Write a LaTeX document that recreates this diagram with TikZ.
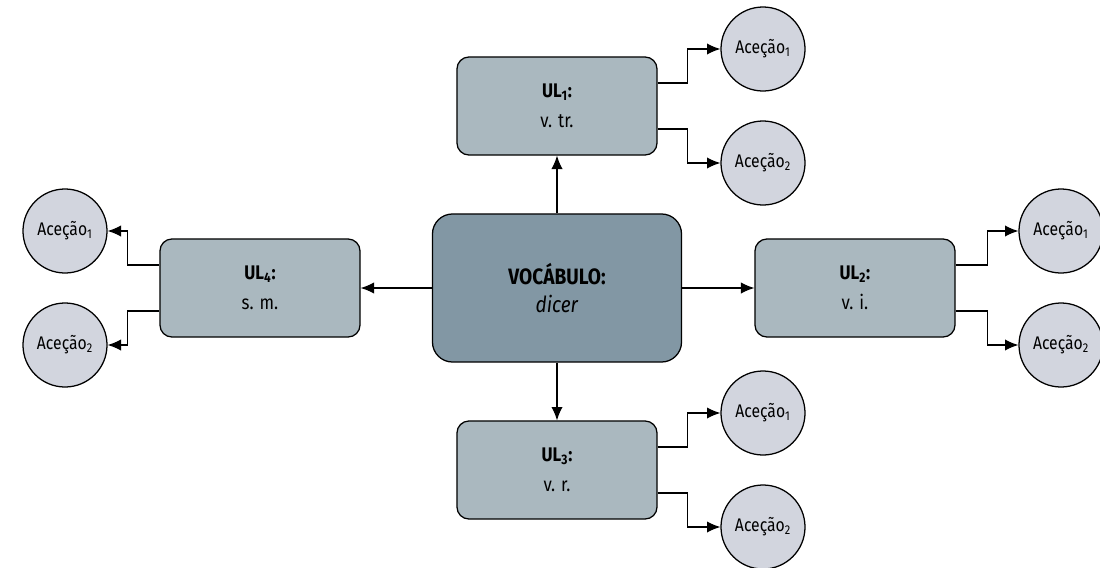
\documentclass[tikz,border=0pt]{standalone}
\usepackage{fontspec}
\setmainfont{Fira Sans}[FakeStretch=0.86]
\usetikzlibrary{arrows.meta}
\definecolor{vocfill}{HTML}{8297A4}
\definecolor{ulfill}{HTML}{AAB8BF}
\definecolor{acfill}{HTML}{D2D5DE}
\newcommand{\acecao}[1]{Aceção\textsubscript{#1}}

\begin{document}
\begin{tikzpicture}[x = 0.025cm, y = -0.025cm,
    vocbox/.style = {draw, line width = 0.9pt, fill = vocfill, rounded corners = 0.5cm,
      minimum width = 6.225cm, minimum height = 3.7cm, align = center, font = \fontsize{15.8}{20}\selectfont},
    ulbox/.style = {draw, line width = 0.9pt, fill = ulfill, rounded corners = 0.3cm,
      minimum width = 5cm, minimum height = 2.45cm, align = center, font = \fontsize{14}{21}\selectfont},
    acnode/.style = {draw, line width = 0.9pt, fill = acfill, circle, minimum size = 2.1cm,
      inner sep = 0pt, font = \fontsize{13}{15}\selectfont},
    arr/.style = {-{Latex[length = 9.5pt, width = 8pt]}, line width = 0.8pt}]
  \useasboundingbox (0, 0) rectangle (1100, 567);

  % central entry
  \node[vocbox] (voc) at (557, 288) {\textbf{VOCÁBULO:}\\ \textit{dicer}};

  % lexical units
  \node[ulbox] (ul1) at (557, 106) {\textbf{UL\textsubscript{1}:}\\ v. tr.};
  \node[ulbox] (ul2) at (855, 288) {\textbf{UL\textsubscript{2}:}\\ v. i.};
  \node[ulbox] (ul3) at (557, 470) {\textbf{UL\textsubscript{3}:}\\ v. r.};
  \node[ulbox] (ul4) at (260, 288) {\textbf{UL\textsubscript{4}:}\\ s. m.};

  % senses
  \node[acnode] (a11) at (763, 49) {\acecao{1}};
  \node[acnode] (a12) at (763, 163) {\acecao{2}};
  \node[acnode] (a21) at (1061, 231) {\acecao{1}};
  \node[acnode] (a22) at (1061, 345) {\acecao{2}};
  \node[acnode] (a31) at (763, 413) {\acecao{1}};
  \node[acnode] (a32) at (763, 527) {\acecao{2}};
  \node[acnode] (a41) at (65, 231) {\acecao{1}};
  \node[acnode] (a42) at (65, 345) {\acecao{2}};

  \draw[arr] (voc) -- (ul1);
  \draw[arr] (voc) -- (ul2);
  \draw[arr] (voc) -- (ul3);
  \draw[arr] (voc) -- (ul4);

  \draw[arr] ([yshift = 0.575cm]ul1.east) -- ++(0.75cm, 0) |- (a11);
  \draw[arr] ([yshift = -0.575cm]ul1.east) -- ++(0.75cm, 0) |- (a12);
  \draw[arr] ([yshift = 0.575cm]ul2.east) -- ++(0.8cm, 0) |- (a21);
  \draw[arr] ([yshift = -0.575cm]ul2.east) -- ++(0.8cm, 0) |- (a22);
  \draw[arr] ([yshift = 0.575cm]ul3.east) -- ++(0.75cm, 0) |- (a31);
  \draw[arr] ([yshift = -0.575cm]ul3.east) -- ++(0.75cm, 0) |- (a32);
  \draw[arr] ([yshift = 0.575cm]ul4.west) -- ++(-0.8cm, 0) |- (a41);
  \draw[arr] ([yshift = -0.575cm]ul4.west) -- ++(-0.8cm, 0) |- (a42);
\end{tikzpicture}
\end{document}
